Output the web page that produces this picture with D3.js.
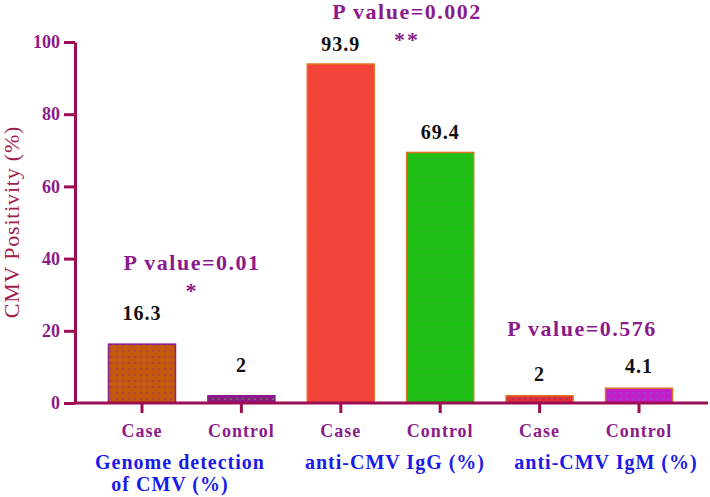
<!DOCTYPE html>
<html>
<head>
<meta charset="utf-8">
<script src="https://cdn.jsdelivr.net/npm/d3@7"></script>
<style>
  body { margin: 0; background: #fff; }
  svg text { font-family: "Liberation Serif", "Times New Roman", Times, "DejaVu Serif", serif !important; font-weight: bold; }
  svg text.title { font-weight: normal; }
</style>
</head>
<body>
<div class="canvas"></div>
<script>
// data
const groups = ['Genome detection of CMV (%)', 'anti-CMV IgG (%)', 'anti-CMV IgM (%)'];
const subgroups = ['Case', 'Control'];
const values = [16.3, 2, 93.9, 69.4, 2, 4.1];
const pValues = ['P value=0.01', 'P value=0.002', 'P value=0.576'];
const stars = ['*', '**', ''];
const yTicks = [0, 20, 40, 60, 80, 100];

const purple = '#8b1a8b';
const axisCol = '#9c0d52';

// fill, dot colour, stroke for each bar
const barStyle = [
  { fill: '#c4580c', dot: '#9a2a8a', stroke: '#8b1a8b' },
  { fill: '#8b1a8b', dot: '#5fbf3f', stroke: '#8b1a8b' },
  { fill: '#f4433a', dot: '#e8502f', stroke: '#e07020' },
  { fill: '#1cbf12', dot: '#3aa83a', stroke: '#e07020' },
  { fill: '#e0303a', dot: '#9a1a7a', stroke: '#e07020' },
  { fill: '#c21fc8', dot: '#5a6ae0', stroke: '#e07020' }
];

const bars = [];
groups.forEach((g, i) => subgroups.forEach((s, j) => {
  bars.push({ key: i + '|' + s, group: i, sub: s, value: values[i * 2 + j] });
}));

const svg = d3.select('.canvas').append('svg')
  .attr('width', 710).attr('height', 497);

const defs = svg.append('defs');
barStyle.forEach((st, i) => {
  const p = defs.append('pattern')
    .attr('id', 'dots' + i)
    .attr('patternUnits', 'userSpaceOnUse')
    .attr('width', 6).attr('height', 6);
  p.append('rect').attr('width', 6).attr('height', 6).attr('fill', st.fill);
  p.append('circle').attr('cx', 3).attr('cy', 3).attr('r', 0.8).attr('fill', st.dot);
});

const x = d3.scaleBand()
  .domain(bars.map(d => d.key))
  .range([92.3, 688.7])
  .paddingInner(0.326)
  .paddingOuter(0.163);

const y = d3.scaleLinear().domain([0, 100]).range([403, 42]);

// bars
svg.selectAll('rect.bar')
  .data(bars)
  .enter().append('rect')
  .attr('class', 'bar')
  .attr('x', d => x(d.key))
  .attr('y', d => y(d.value))
  .attr('width', x.bandwidth())
  .attr('height', d => y(0) - y(d.value))
  .attr('fill', (d, i) => `url(#dots${i})`)
  .attr('stroke', (d, i) => barStyle[i].stroke)
  .attr('stroke-width', 1.5);

// value labels (offset above bar differs a bit by group in the original)
const labelGap = [24, 13, 15];
svg.selectAll('text.val')
  .data(bars)
  .enter().append('text')
  .attr('class', 'val')
  .attr('x', d => x(d.key) + x.bandwidth() / 2)
  .attr('y', d => y(d.value) - labelGap[d.group])
  .attr('text-anchor', 'middle')
  .attr('font-size', 20)
  .attr('letter-spacing', 1)
  .attr('fill', '#111')
  .text(d => d.value);

// y axis
const yAxis = svg.append('g')
  .attr('transform', 'translate(75,0)')
  .call(d3.axisLeft(y).tickValues(yTicks).tickSize(11).tickSizeOuter(0).tickPadding(4));
yAxis.selectAll('path, line').attr('stroke', axisCol).attr('stroke-width', 3);
yAxis.selectAll('text').attr('fill', purple).attr('font-size', 18);

// x axis
const xAxis = svg.append('g')
  .attr('transform', 'translate(0,403)')
  .call(d3.axisBottom(x).tickSize(10).tickPadding(11).tickFormat(k => k.split('|')[1]));
xAxis.select('.domain').remove();
xAxis.selectAll('line').attr('stroke', axisCol).attr('stroke-width', 3);
xAxis.selectAll('text').attr('fill', purple).attr('font-size', 18).attr('letter-spacing', 1);
xAxis.append('line')
  .attr('x1', 74).attr('x2', 708)
  .attr('stroke', axisCol).attr('stroke-width', 3);

// group labels
const groupX = [180, 395, 606];
const groupLines = [['Genome detection', 'of CMV (%)'], ['anti-CMV IgG (%)'], ['anti-CMV IgM (%)']];
groupLines.forEach((lines, i) => {
  const t = svg.append('text')
    .attr('y', 469)
    .attr('text-anchor', 'middle')
    .attr('font-size', 20)
    .attr('letter-spacing', 1)
    .attr('fill', '#1a1ae8');
  lines.forEach((ln, k) => {
    t.append('tspan').attr('x', groupX[i] - k * 10).attr('dy', k ? 22 : 0).text(ln);
  });
});

// p values and stars
const pPos = [{ x: 192, y: 270 }, { x: 407, y: 19 }, { x: 582, y: 336 }];
pValues.forEach((p, i) => {
  svg.append('text')
    .attr('x', pPos[i].x).attr('y', pPos[i].y)
    .attr('text-anchor', 'middle')
    .attr('font-size', 22)
    .attr('letter-spacing', 1.5)
    .attr('fill', purple)
    .text(p);
  if (stars[i]) {
    svg.append('text')
      .attr('x', pPos[i].x).attr('y', pPos[i].y + 28)
      .attr('text-anchor', 'middle')
      .attr('font-size', 22)
      .attr('letter-spacing', 2)
      .attr('fill', purple)
      .text(stars[i]);
  }
});

// y axis title
svg.append('text')
  .attr('class', 'title')
  .attr('transform', 'translate(19,222) rotate(-90)')
  .attr('text-anchor', 'middle')
  .attr('font-size', 22)
  .attr('letter-spacing', 0.8)
  .attr('fill', '#a3204d')
  .text('CMV Positivity (%)');
</script>
</body>
</html>
